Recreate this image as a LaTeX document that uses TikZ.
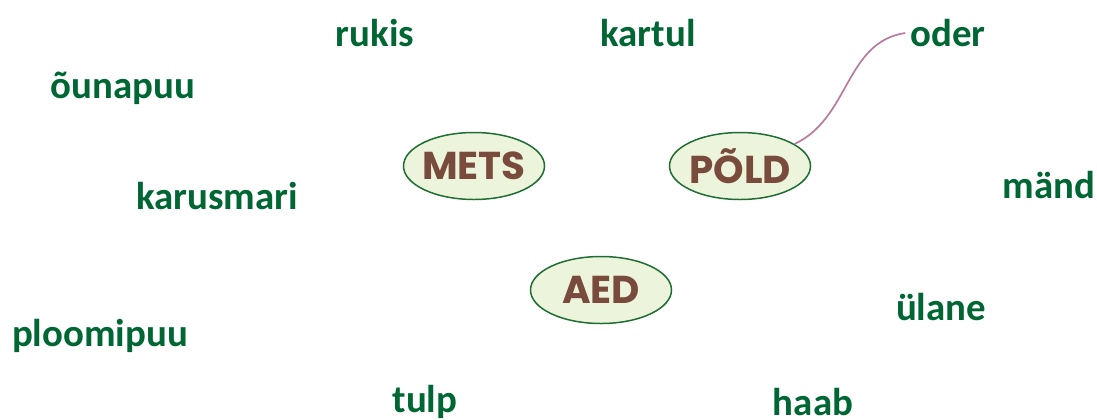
\documentclass[tikz,border=0pt]{standalone}
\usepackage{fontspec}
\setmainfont{Carlito}
\newfontfamily\labelfont{Poppins}
\usetikzlibrary{shapes.geometric}
\definecolor{wordgreen}{RGB}{0,102,51}
\definecolor{ringgreen}{RGB}{30,110,50}
\definecolor{ringfill}{RGB}{236,244,220}
\definecolor{labelbrown}{RGB}{120,75,60}
\definecolor{linkmauve}{RGB}{184,122,160}
\tikzset{
  word/.style={font=\fontsize{39}{40}\selectfont\bfseries, text=wordgreen, inner sep=0pt},
  place/.style={ellipse, draw=ringgreen, fill=ringfill, line width=1.5pt,
    minimum width=141bp, minimum height=67bp, inner xsep=-7bp, inner ysep=0pt,
    font=\labelfont\bfseries\fontsize{39}{42}\selectfont, text=labelbrown}
}

\begin{document}
\begin{tikzpicture}[x=1bp, y=-1bp]
\useasboundingbox (0,0) rectangle (1097,419);
% metsa, p\~ollu ja aia ringid
\node[place] (mets) at (474,166) {METS};
\node[place] (pold) at (740,166) {PÕLD};
\node[place] (aed) at (601,290) {AED};
% sonad
\node[word] (rukis) at (375,33) {rukis};
\node[word] (kartul) at (648,33) {kartul};
\node[word] (oder) at (948,33) {oder};
\node[word] (ounapuu) at (123,88) {õunapuu};
\node[word] (karusmari) at (217,196) {karusmari};
\node[word] (mand) at (1049,185) {mänd};
\node[word] (ulane) at (941,307) {ülane};
\node[word] (ploomipuu) at (100,336) {ploomipuu};
\node[word] (tulp) at (425,402) {tulp};
\node[word] (haab) at (813,402) {haab};
% uhendus
\draw[linkmauve, line width=1.7pt] (pold.22) .. controls (850,118) and (845,42) .. ([xshift=-5bp]oder.west);
\end{tikzpicture}
\end{document}
